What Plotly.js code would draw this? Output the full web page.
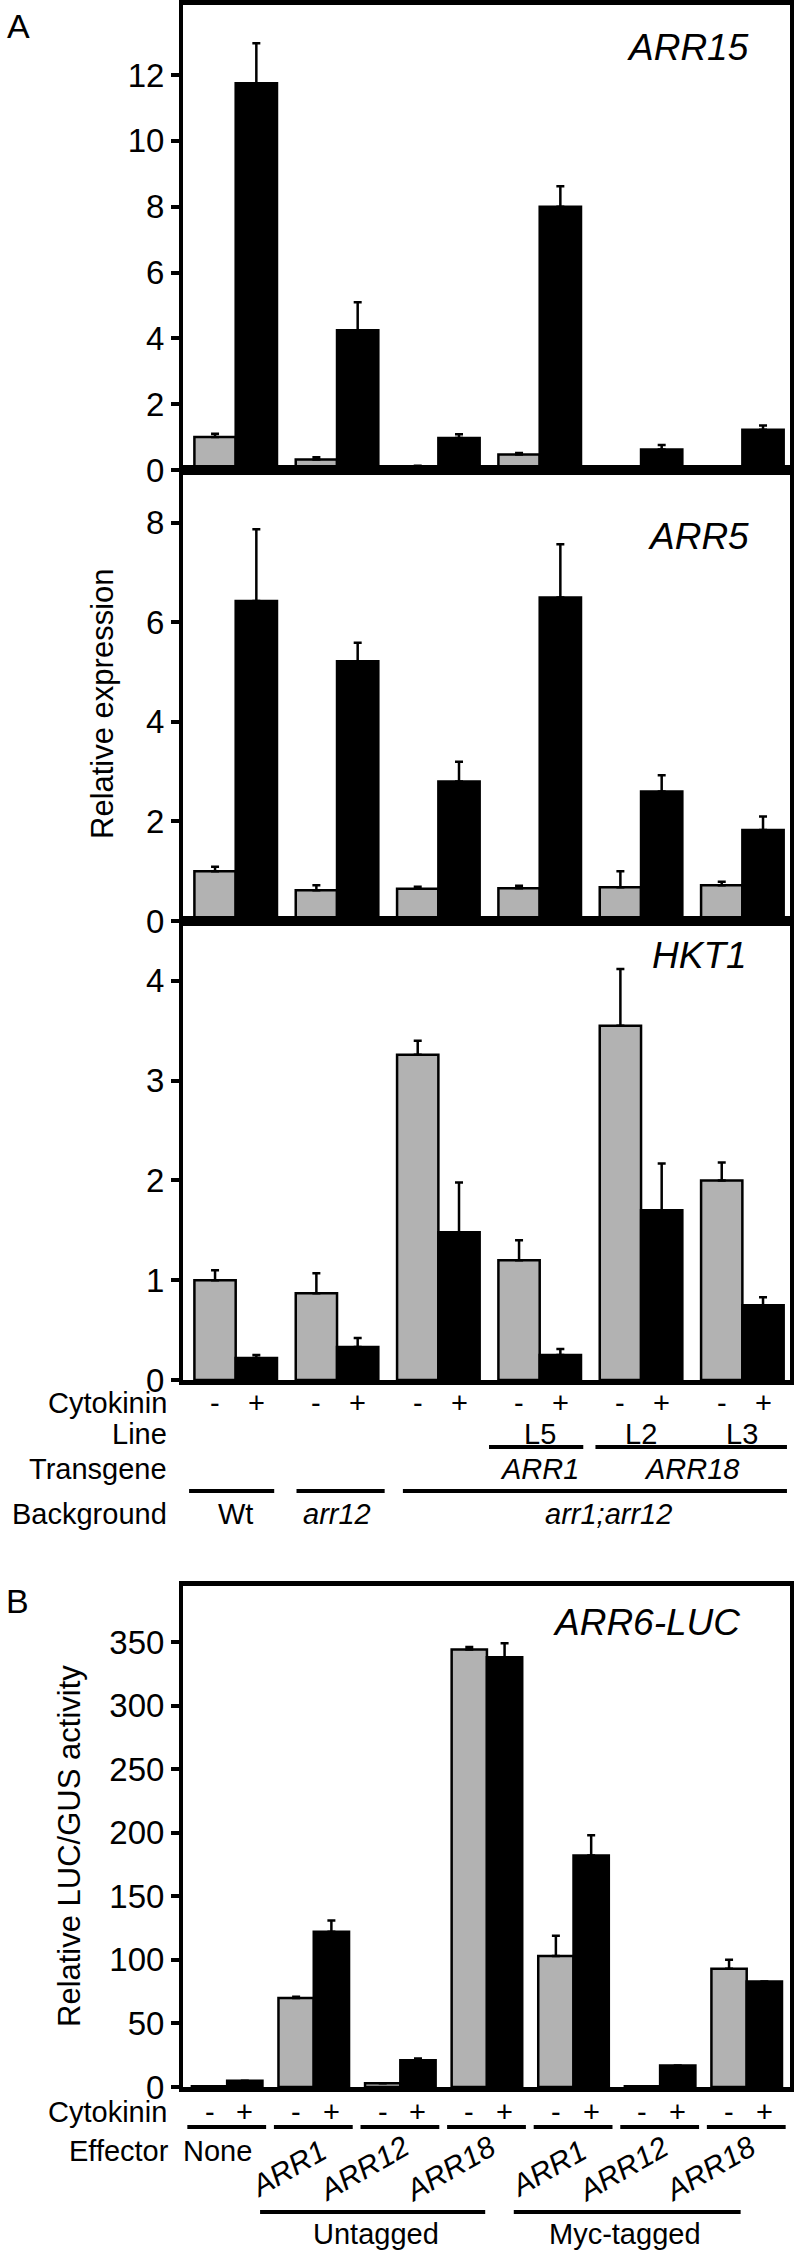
<!DOCTYPE html>
<html>
<head>
<meta charset="utf-8">
<script src="https://cdn.plot.ly/plotly-3.0.1.min.js"></script>
<style>html,body{margin:0;padding:0;background:#fff;}#chart{width:797px;height:2255px;}</style>
</head>
<body>
<div id="chart"></div>
<script>
// ---------- Data ----------
const groupsA = ['Wt', 'arr12', 'arr1;arr12', 'ARR1 L5', 'ARR18 L2', 'ARR18 L3'];
const cytokininSigns = ['-', '+'];
const lineLabels = ['', '', '', 'L5', 'L2', 'L3'];

const arr15Minus = [1.0, 0.32, 0.1, 0.47, 0.07, 0.07];
const arr15MinusErr = [0.1, 0.07, 0.03, 0.05, 0.04, 0.03];
const arr15Plus = [11.75, 4.25, 0.97, 8.0, 0.62, 1.22];
const arr15PlusErr = [1.22, 0.85, 0.12, 0.62, 0.14, 0.13];

const arr5Minus = [1.0, 0.62, 0.65, 0.66, 0.68, 0.72];
const arr5MinusErr = [0.09, 0.1, 0.04, 0.05, 0.32, 0.07];
const arr5Plus = [6.43, 5.22, 2.8, 6.5, 2.6, 1.83];
const arr5PlusErr = [1.44, 0.37, 0.4, 1.07, 0.33, 0.27];

const hkt1Minus = [1.0, 0.87, 3.26, 1.2, 3.55, 2.0];
const hkt1MinusErr = [0.1, 0.2, 0.14, 0.2, 0.57, 0.18];
const hkt1Plus = [0.22, 0.33, 1.48, 0.25, 1.7, 0.75];
const hkt1PlusErr = [0.03, 0.09, 0.5, 0.06, 0.47, 0.08];

const groupsB = ['None', 'ARR1', 'ARR12', 'ARR18', 'Myc-ARR1', 'Myc-ARR12', 'Myc-ARR18'];
const effectorLabels = ['None', 'ARR1', 'ARR12', 'ARR18', 'ARR1', 'ARR12', 'ARR18'];
const lucMinus = [0.5, 70, 3, 344, 103, 0.5, 93];
const lucMinusErr = [0, 1, 0, 2, 16, 0, 7];
const lucPlus = [5, 122, 21, 338, 182, 17, 83];
const lucPlusErr = [0, 9, 1.5, 11, 16, 0, 0];

const ticksARR15 = [0, 2, 4, 6, 8, 10, 12];
const ticksARR5 = [0, 2, 4, 6, 8];
const ticksHKT1 = [0, 1, 2, 3, 4];
const ticksLUC = [0, 50, 100, 150, 200, 250, 300, 350];

// ---------- Layout helpers ----------
const W = 797, H = 2255;
const px = x => x / W;
const py = y => 1 - y / H;
const GRAY = '#b2b2b2';
const FONT = 'Liberation Sans, Arial, Helvetica, sans-serif';
const BARGAP = 0.185;
const OFF = (1 - BARGAP) / 4;
const zeros = n => new Array(n).fill(0);

function barPair(xcats, minus, minusErr, plus, plusErr, xa, ya) {
  const mk = (y, err, color) => ({
    type: 'bar', x: xcats, y: y, xaxis: xa, yaxis: ya,
    marker: {color: color, line: {color: '#000', width: 2.5}},
    error_y: {type: 'data', symmetric: false, array: err, arrayminus: zeros(err.length),
              color: '#000', thickness: 2.5, width: 4},
    hoverinfo: 'skip'
  });
  return [mk(minus, minusErr, GRAY), mk(plus, plusErr, '#000')];
}

const data = [].concat(
  barPair(groupsA, arr15Minus, arr15MinusErr, arr15Plus, arr15PlusErr, 'x', 'y'),
  barPair(groupsA, arr5Minus, arr5MinusErr, arr5Plus, arr5PlusErr, 'x2', 'y2'),
  barPair(groupsA, hkt1Minus, hkt1MinusErr, hkt1Plus, hkt1PlusErr, 'x3', 'y3'),
  barPair(groupsB, lucMinus, lucMinusErr, lucPlus, lucPlusErr, 'x4', 'y4')
);

const xdom = [px(183), px(790)];
function xAxis(anchor, cats, range) {
  return {domain: xdom, anchor: anchor, type: 'category', categoryarray: cats, range: range,
          showline: true, linewidth: 5, linecolor: '#000', mirror: true,
          showticklabels: false, ticks: '', showgrid: false, zeroline: false};
}
function yAxis(anchor, dom, range, tickvals) {
  return {domain: dom, anchor: anchor, range: range, tickvals: tickvals,
          ticktext: tickvals.map(String),
          ticks: 'outside', ticklen: 8, tickwidth: 4, tickcolor: '#000',
          showline: true, linewidth: 4, linecolor: '#000', mirror: true,
          showgrid: false, zeroline: false,
          tickfont: {size: 33, family: FONT, color: '#000'}};
}

const rangeA = [-0.52, 5.47];
const rangeB = [-0.51, 6.5];

const annotations = [];
const shapes = [];
function txt(text, x, y, opts) {
  annotations.push(Object.assign({text: text, x: x, y: y, xref: 'paper', yref: 'paper',
    showarrow: false, xanchor: 'center', yanchor: 'middle',
    font: {size: 29, family: FONT, color: '#000'}}, opts || {}));
}

// Panel letters
txt('A', px(18), py(26), {font: {size: 34, family: FONT, color: '#000'}});
txt('B', px(17), py(1601), {font: {size: 34, family: FONT, color: '#000'}});

// Gene titles
txt('<i>ARR15</i>', px(751), py(47), {xanchor: 'right', font: {size: 37, family: FONT, color: '#000'}});
txt('<i>ARR5</i>', px(751), py(536), {xanchor: 'right', font: {size: 37, family: FONT, color: '#000'}});
txt('<i>HKT1</i>', px(749), py(955), {xanchor: 'right', font: {size: 37, family: FONT, color: '#000'}});
txt('<i>ARR6-LUC</i>', px(742), py(1622), {xanchor: 'right', font: {size: 37, family: FONT, color: '#000'}});

// Y titles
txt('Relative expression', px(102), py(704), {textangle: -90, font: {size: 31, family: FONT, color: '#000'}});
txt('Relative LUC/GUS activity', px(69), py(1846), {textangle: -90, font: {size: 31, family: FONT, color: '#000'}});

// Panel A bottom rows
const rowA = {cyt: 1403, line: 1434, trans: 1469, bg: 1514};
txt('Cytokinin', px(169), py(rowA.cyt), {xanchor: 'right'});
txt('Line', px(169), py(rowA.line), {xanchor: 'right'});
txt('Transgene', px(169), py(rowA.trans), {xanchor: 'right'});
txt('Background', px(169), py(rowA.bg), {xanchor: 'right'});
groupsA.forEach((g, i) => {
  txt(cytokininSigns[0], i - OFF, py(rowA.cyt), {xref: 'x3'});
  txt(cytokininSigns[1], i + OFF, py(rowA.cyt), {xref: 'x3'});
  if (lineLabels[i]) txt(lineLabels[i], i, py(rowA.line), {xref: 'x3'});
});
txt('<i>ARR1</i>', 3, py(rowA.trans), {xref: 'x3'});
txt('<i>ARR18</i>', 4.5, py(rowA.trans), {xref: 'x3'});
txt('Wt', 0, py(rowA.bg), {xref: 'x3'});
txt('<i>arr12</i>', 1, py(rowA.bg), {xref: 'x3'});
txt('<i>arr1;arr12</i>', 3.68, py(rowA.bg), {xref: 'x3'});

function hline(xref, x0, x1, y, w) {
  shapes.push({type: 'line', xref: xref, yref: 'paper', x0: x0, x1: x1, y0: py(y), y1: py(y),
               line: {color: '#000', width: w || 4}});
}
hline('x3', 2.5, 3.43, 1447);
hline('x3', 3.55, 5.44, 1447);
hline('x3', -0.46, 0.38, 1491);
hline('x3', 0.6, 1.47, 1491);
hline('x3', 1.65, 5.44, 1491);

// Panel B bottom rows
txt('Cytokinin', px(169), py(2112), {xanchor: 'right'});
txt('Effector', px(171), py(2151), {xanchor: 'right'});
txt(effectorLabels[0], px(181), py(2151), {xanchor: 'left'});
groupsB.forEach((g, i) => {
  txt(cytokininSigns[0], i - OFF, py(2112), {xref: 'x4'});
  txt(cytokininSigns[1], i + OFF, py(2112), {xref: 'x4'});
  hline('x4', i - 0.46, i + 0.45, 2127);
  if (i > 0) {
    const off = effectorLabels[i].length === 4 ? -0.3 : -0.43;
    txt('<i>' + effectorLabels[i] + '</i>', i + off, py(2168), {xref: 'x4', textangle: -30,
        font: {size: 30, family: FONT, color: '#000'}});
  }
});
hline('x4', 0.38, 2.98, 2212);
hline('x4', 3.31, 5.93, 2212);
txt('Untagged', 1.72, py(2234), {xref: 'x4'});
txt('Myc-tagged', 4.59, py(2234), {xref: 'x4'});

const layout = {
  width: W, height: H,
  margin: {l: 0, r: 0, t: 0, b: 0, pad: 0},
  paper_bgcolor: '#fff', plot_bgcolor: '#fff',
  showlegend: false,
  barmode: 'group', bargap: BARGAP, bargroupgap: 0,
  font: {family: FONT, color: '#000'},
  xaxis: xAxis('y', groupsA, rangeA),
  yaxis: yAxis('x', [py(470), py(5)], [0, 14.13], ticksARR15),
  xaxis2: xAxis('y2', groupsA, rangeA),
  yaxis2: yAxis('x2', [py(921), py(470)], [0, 9.06], ticksARR5),
  xaxis3: xAxis('y3', groupsA, rangeA),
  yaxis3: yAxis('x3', [py(1380), py(921)], [0, 4.6], ticksHKT1),
  xaxis4: xAxis('y4', groupsB, rangeB),
  yaxis4: yAxis('x4', [py(2087), py(1586)], [0, 394], ticksLUC),
  annotations: annotations,
  shapes: shapes
};

Plotly.newPlot('chart', data, layout, {staticPlot: true, displayModeBar: false});
</script>
</body>
</html>
